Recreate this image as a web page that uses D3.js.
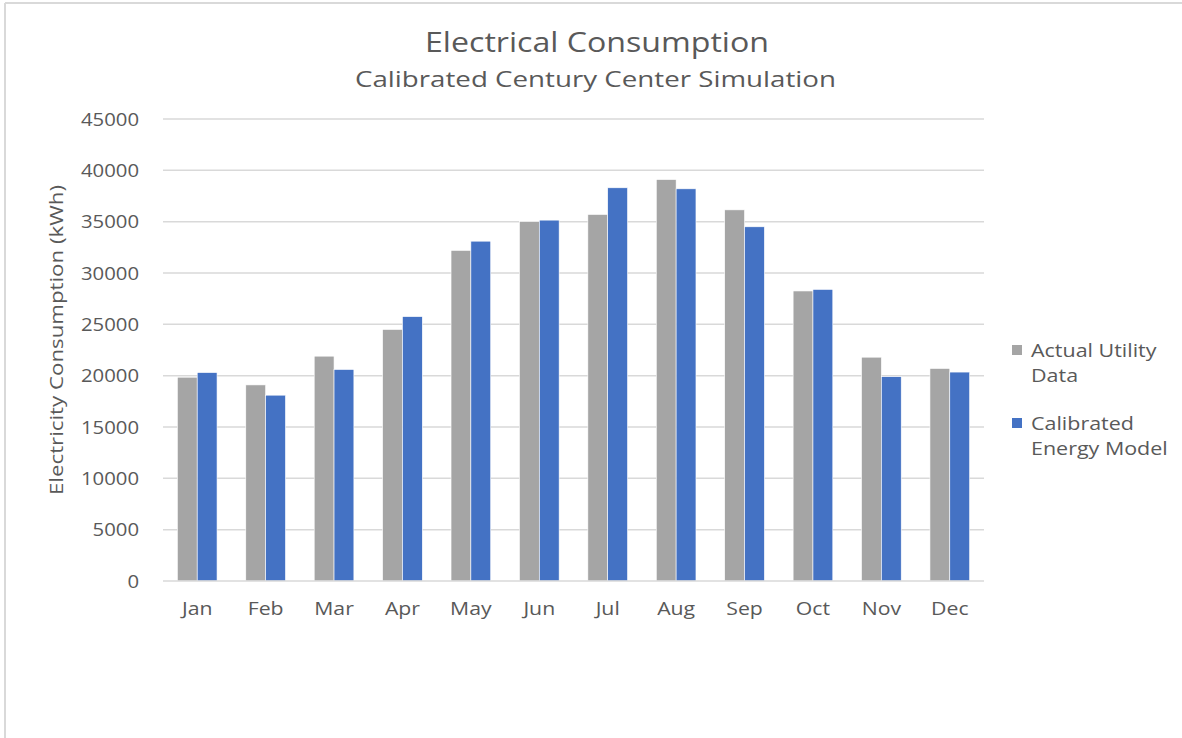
<!DOCTYPE html>
<html>
<head>
<meta charset="utf-8">
<script src="https://cdn.jsdelivr.net/npm/d3@7"></script>
<style>
  html, body { margin: 0; padding: 0; background: #fff; }
  svg { display: block; }
  text { font-family: "Open Sans", "Noto Sans", sans-serif; fill: #595959; }
</style>
</head>
<body>
<svg id="chart" width="1182" height="738"></svg>
<script>
const months = ["Jan","Feb","Mar","Apr","May","Jun","Jul","Aug","Sep","Oct","Nov","Dec"];
const seriesNames = ["Actual Utility Data", "Calibrated Energy Model"];
const actualUtility = [19850, 19100, 21900, 24500, 32200, 35000, 35700, 39100, 36150, 28250, 21800, 20700];
const calibratedModel = [20300, 18100, 20600, 25750, 33100, 35150, 38300, 38200, 34500, 28400, 19900, 20350];
const yTicks = [0, 5000, 10000, 15000, 20000, 25000, 30000, 35000, 40000, 45000];
const colors = ["#a5a5a5", "#4472c4"];
const titleText = "Electrical Consumption";
const subtitleText = "Calibrated Century Center Simulation";
const yAxisTitle = "Electricity Consumption (kWh)";
const legendLines = [["Actual Utility", "Data"], ["Calibrated", "Energy Model"]];

const svg = d3.select("#chart");

// widen glyphs horizontally (reference text is rendered wider)
function stretch(sel, k) {
  sel.each(function () {
    const w = this.getComputedTextLength();
    d3.select(this).attr("textLength", w * k).attr("lengthAdjust", "spacingAndGlyphs");
  });
}

// outer frame (top and left edges visible)
svg.append("line").attr("x1", 5).attr("x2", 1182).attr("y1", 3).attr("y2", 3)
  .attr("stroke", "#d9d9d9").attr("stroke-width", 2);
svg.append("line").attr("x1", 5).attr("x2", 5).attr("y1", 3).attr("y2", 738)
  .attr("stroke", "#d9d9d9").attr("stroke-width", 2);

const plot = { left: 163, right: 984, top: 119, bottom: 581 };

const x = d3.scaleBand().domain(months).range([plot.left, plot.right])
  .paddingInner(0.42).paddingOuter(0.21);
const xs = d3.scaleBand().domain([0, 1]).range([0, x.bandwidth()]);
const y = d3.scaleLinear().domain([0, 45000]).range([plot.bottom, plot.top]);

// gridlines
svg.append("g").selectAll("line").data(yTicks.filter(d => d > 0)).join("line")
  .attr("x1", plot.left).attr("x2", plot.right)
  .attr("y1", d => y(d)).attr("y2", d => y(d))
  .attr("stroke", "#d9d9d9").attr("stroke-width", 1.5);

// bars
const data = months.map((m, i) => ({ m, vals: [actualUtility[i], calibratedModel[i]] }));
const groups = svg.append("g").selectAll("g").data(data).join("g")
  .attr("transform", d => `translate(${x(d.m)},0)`);
groups.selectAll("rect").data(d => d.vals.map((v, k) => ({ v, k }))).join("rect")
  .attr("x", d => xs(d.k))
  .attr("width", xs.bandwidth())
  .attr("y", d => y(d.v))
  .attr("height", d => y(0) - y(d.v))
  .attr("fill", d => colors[d.k])
  .attr("stroke", "#ffffff").attr("stroke-width", 0.6);

// x axis line
svg.append("line").attr("x1", plot.left).attr("x2", plot.right)
  .attr("y1", y(0)).attr("y2", y(0)).attr("stroke", "#d9d9d9").attr("stroke-width", 1.5);

// y axis labels
const yAxis = d3.axisLeft(y).tickValues(yTicks).tickSize(0).tickPadding(0).tickFormat(d3.format("d"));
const yg = svg.append("g").attr("transform", `translate(${plot.left - 24},0)`).call(yAxis);
yg.select(".domain").remove();
yg.selectAll("text").attr("font-size", 17.5).attr("fill", "#595959")
  .style("font-family", '"Open Sans", sans-serif').attr("dy", "0.35em");
stretch(yg.selectAll("text"), 1.16);

// x axis labels
const xAxis = d3.axisBottom(x).tickSize(0).tickPadding(0);
const xg = svg.append("g").attr("transform", `translate(0,${plot.bottom + 21})`).call(xAxis);
xg.select(".domain").remove();
xg.selectAll("text").attr("font-size", 18).attr("fill", "#595959")
  .style("font-family", '"Open Sans", sans-serif').attr("dy", "0.71em");
stretch(xg.selectAll("text"), 1.18);

// titles
const t1 = svg.append("text").attr("x", 597).attr("y", 52).attr("text-anchor", "middle")
  .attr("font-size", 26.5).text(titleText);
t1.attr("textLength", 344).attr("lengthAdjust", "spacingAndGlyphs");
const t2 = svg.append("text").attr("x", 595.5).attr("y", 87).attr("text-anchor", "middle")
  .attr("font-size", 21.5).text(subtitleText);
t2.attr("textLength", 481).attr("lengthAdjust", "spacingAndGlyphs");

// y axis title
svg.append("text").attr("transform", `translate(63,340) rotate(-90)`)
  .attr("text-anchor", "middle").attr("font-size", 18)
  .attr("textLength", 310).attr("lengthAdjust", "spacingAndGlyphs")
  .text(yAxisTitle);

// legend
const legend = svg.append("g").selectAll("g").data(seriesNames).join("g")
  .attr("transform", (d, i) => `translate(1012,${345 + i * 73})`);
legend.append("rect").attr("width", 10).attr("height", 10).attr("fill", (d, i) => colors[i]);
legend.each(function (d, i) {
  legendLines[i].forEach((line, j) => {
    const t = d3.select(this).append("text").attr("x", 19).attr("y", 11.5 + j * 25)
      .attr("font-size", 18.5).text(line);
    stretch(t, 1.16);
  });
});
</script>
</body>
</html>
